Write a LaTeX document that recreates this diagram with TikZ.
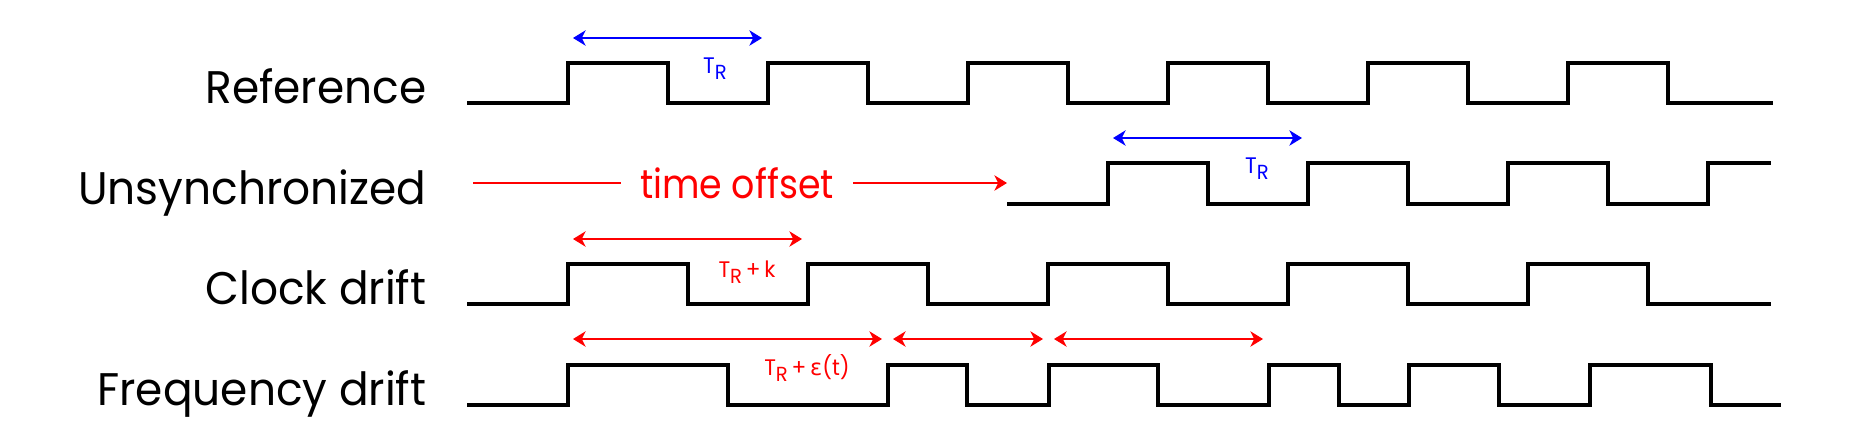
\documentclass[tikz,border=0pt]{standalone}
\usepackage{fontspec}
\setmainfont{Poppins}[FakeStretch=0.96]
\newfontfamily\offsetfont{Poppins}[FakeStretch=0.9]
\newfontfamily\greekfont{DejaVu Sans}
\usetikzlibrary{arrows.meta}
\newcommand{\TR}{T\raisebox{-0.55ex}{\fontsize{5.8}{6}\selectfont R}}
\begin{document}
\begin{tikzpicture}[x=0.1mm, y=-0.1mm,
    every node/.style={inner sep=0pt},
    rowname/.style={anchor=base east, font=\fontsize{13}{15}\selectfont},
    wave/.style={line width=1pt, line join=miter},
    period/.style={<->, >={Stealth[length=3.6pt, width=4.4pt, inset=1.1pt]},
        line width=0.45pt, shorten <=0.5mm, shorten >=0.6mm},
    tlabel/.style={anchor=base, font=\fontsize{6.4}{7}\selectfont}
  ]
  \useasboundingbox (0,0) rectangle (1857,429);
  % row names
  \node[rowname] (nref)   at (427,103) {Reference};
  \node[rowname] (nunsyn) at (427,204) {Unsynchronized};
  \node[rowname] (nclk)   at (427,304) {Clock drift};
  \node[rowname] (nfreq)  at (427,405) {Frequency drift};
  % waveforms
  \draw[wave] (467,103) -| (568,63) -| (668,103) -| (768,63) -| (868,103)
    -| (968,63) -| (1068,103) -| (1168,63) -| (1268,103) -| (1368,63)
    -| (1468,103) -| (1568,63) -| (1668,103) -- (1773,103);
  \draw[wave] (1007,204) -| (1108,163) -| (1208,204) -| (1308,163)
    -| (1408,204) -| (1508,163) -| (1608,204) -| (1708,163) -- (1771,163);
  \draw[wave] (467,304) -| (568,264) -| (688,304) -| (808,264) -| (928,304)
    -| (1048,264) -| (1168,304) -| (1288,264) -| (1408,304) -| (1528,264)
    -| (1648,304) -- (1771,304);
  \draw[wave] (467,405) -| (568,365) -| (728,405) -| (888,365) -| (967,405)
    -| (1049,365) -| (1158,405) -| (1269,365) -| (1339,405) -| (1409,365)
    -| (1499,405) -| (1590,365) -| (1711,405) -- (1781,405);
  % period marks
  \coordinate (ra) at (568,38);
  \coordinate (rb) at (768,38);
  \coordinate (ua) at (1108,138);
  \coordinate (ub) at (1308,138);
  \coordinate (ca) at (568,239);
  \coordinate (cb) at (808,239);
  \coordinate (fa) at (568,339);
  \coordinate (fb) at (888,339);
  \coordinate (fc) at (1049,339);
  \coordinate (fd) at (1269,339);
  \coordinate (offs) at (467,183);
  \coordinate (offe) at (1007,183);
  \draw[period, blue] (ra) -- (rb);
  \draw[period, blue] (ua) -- (ub);
  \draw[period, red] (ca) -- (cb);
  \draw[period, red] (fa) -- (fb);
  \draw[period, red] (fb) -- (fc);
  \draw[period, red] (fc) -- (fd);
  \draw[period, red, <-, shorten <=0pt] (offe) -- (offs)
    node[midway, fill=white, inner xsep=5.5pt, inner ysep=2pt,
      font=\offsetfont\fontsize{11.5}{13}\selectfont] (toff) {time offset};
  % period labels
  \node[tlabel, blue] (tref) at (715,73) {\TR};
  \node[tlabel, blue] (tuns) at (1257,173) {\TR};
  \node[tlabel, red] (tclk) at (747,277) {\TR\,+\,k};
  \node[tlabel, red] (tfreq) at (807,375) {\TR\,+\,{\greekfont ε}(t)};
\end{tikzpicture}
\end{document}
